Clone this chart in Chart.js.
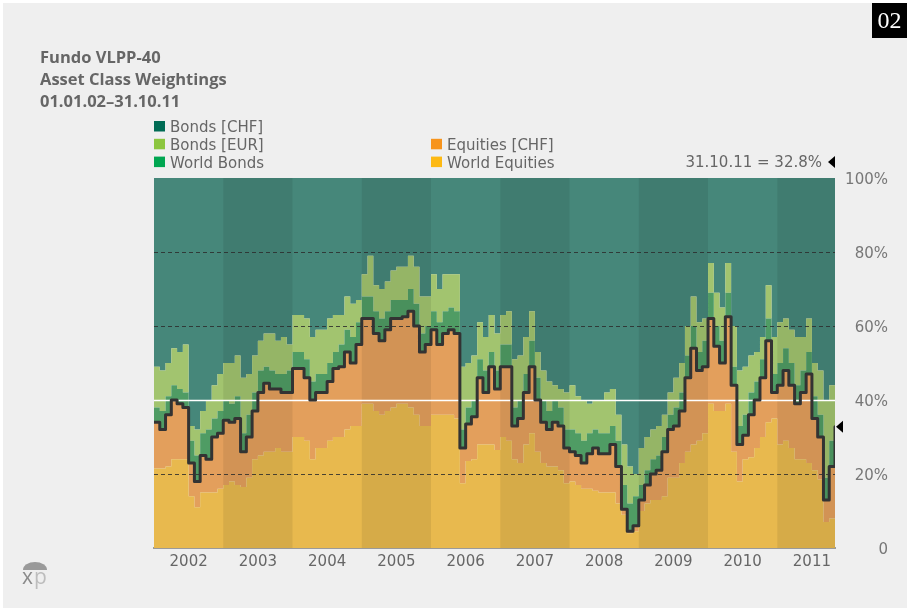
<!DOCTYPE html>
<html><head><meta charset="utf-8">
<script src="https://cdn.jsdelivr.net/npm/chart.js@4/dist/chart.umd.min.js"></script>
<style>
html,body{margin:0;padding:0;background:#fff;}
#wrap{width:907px;height:608px;position:relative;}
canvas{display:block;}
</style>
</head><body>
<div id="wrap"><canvas id="c" width="907" height="608"></canvas></div>
<script>
// ---- Data (monthly, Jan 2002 .. Oct 2011, plus closing point 31.10.11) ----
const years = ['2002','2003','2004','2005','2006','2007','2008','2009','2010','2011'];
const worldEquities = [
 21.5,21.5,22,24,24,24,14,11,15,15,15,16,
 17,18,17,16.5,19,24,25,26,26,27,26,26,
 30,30,29,24,27,27,29,30,30,32,33,33,
 39,39,37,36,37,38,39,39,38,36,33,33,
 36,36,36,36,35,17.5,23.5,24,28,28,28,26.5,
 30,29,24,23,28,31,26,23,22,22,21,17.5,
 18,17,16,16,15.5,15,15,15,12,9,4,4.5,
 10,12,13,13,14,19,19,23,26,28,29,31,
 39,37,37,39,26,18,24,24.5,27,30,34,35,
 28,29,27,24,24,23,21,18.5,7,8,14];
const equitiesCHF = [
 12.5,10.5,14,16,15,14,9,7,10,9,15,15,
 17.5,16,18,9.5,11,13,17,18.5,17,16,16,16,
 18.5,18.5,17,16,15,15,16,18.5,19,21,17,22,
 23,23,21,20,22,24,23,23.5,26,24,20,22,
 23,19,22,23,23,9.5,10,11.5,18,14,21,16.5,
 19,20,9,12,14,18,14,11,10,12,12,9.5,
 8,8,7,9.5,11.5,10.5,10.5,13,10,1.5,0.5,1.5,
 3,5,7,8,12,13,14,14,20,26,19,18,
 23,17.5,13,23.5,18,10,6.5,11.5,13,16,22,7,
 16,19,17,15,18,24,14,11.5,6,14,18.8];
const worldBonds = [
 4,5,5,4,4,4,6,7,6,8,5,6,
 5.5,5,6,5,6,5,6,4.5,5,4,5,6,
 4.5,4.5,5,5,5,5,5,4.5,6,6,7,6,
 6,6,6,6,5,5,5,4.5,6,6,5,5,
 5,6,6,6,6,5,4.5,4.5,5,6,4,5,
 6,6,5,5,5,7,6,6,5,6,5,5,
 6,6,6,5.5,5,5.5,5.5,5,7,6.5,7.5,8,
 4,4,4,4,4,4,5,5,6,6,5,7,
 7,5.5,6,6.5,5,5,5.5,6,5,5,6,5,
 6,6,6,5,6,6,6,6,6,7,5.2];
const bondsEUR = [
 11,11,9,10,10,13,4,7,6,8,9,10,
 10,11,11,15,11,10,8,9,10,9,10,7,
 10,10,11,12,12,12,12,10,8,9,9,6,
 6,11,7,8,8,8,9,9,9,10,10,8,
 10,9,10,9,10,17,12,12,10,9,10,10,
 8,9,13,12,10,8,7,8,8,4,5,10,
 12,10,11,8,8,9,11,10,7,11,10,6,
 10,9,8,8,6,6,8,8,8,8,8,6,
 8,9,9,8,11,15,13,10,8,6,9,10,
 11,8,9,13,9,9,9,12,21,15,10];
const bondsCHF = [
 51,52,50,46,47,45,67,68,63,60,56,53,
 50,50,48,54,53,48,44,42,42,44,43,45,
 37,37,38,43,41,41,38,37,37,32,34,33,
 26,21,29,30,28,25,24,24,21,24,32,32,
 26,30,26,26,26,51,50,48,39,43,37,42,
 37,36,49,48,43,36,47,52,55,56,57,58,
 56,59,60,61,60,60,58,57,64,72,78,80,
 73,70,68,67,64,58,54,50,40,32,39,38,
 23,31,35,23,40,52,51,48,47,43,29,43,
 39,38,41,43,43,38,50,52,60,56,52];
const yTickLabels = ['0','20%','40%','60%','80%','100%'];
const lastDate = '31.10.11';
const lastValue = 32.8;
const titleLines = ['Fundo VLPP-40','Asset Class Weightings','01.01.02\u201331.10.11'];

// ---- Styling ----
const FONT = "'DejaVu Sans', sans-serif";
const series = [
  {label:'World Equities', data:worldEquities, fill:'#e8b94e', key:'#fdb913'},
  {label:'Equities [CHF]', data:equitiesCHF,  fill:'#e39f5c', key:'#f7941d'},
  {label:'World Bonds',    data:worldBonds,   fill:'#4f9c64', key:'#00a651'},
  {label:'Bonds [EUR]',    data:bondsEUR,     fill:'#a2c46f', key:'#8cc63f'},
  {label:'Bonds [CHF]',    data:bondsCHF,     fill:'#46877a', key:'#006b54'}
];
const nPts = worldEquities.length;          // 119 points, x = month index
const xMax = nPts - 1;
const toXY = arr => arr.map((v,i)=>({x:i, y:v}));
const equityTotal = worldEquities.map((v,i)=> v + equitiesCHF[i]);

const datasets = series.map((s,i)=>({
  label:s.label, data:toXY(s.data), stack:'w', order:1,
  backgroundColor:s.fill, borderColor:s.fill, borderWidth:0,
  fill: i===0 ? 'origin' : '-1', stepped:true, pointRadius:0, tension:0
}));
const LINE_INDEX = datasets.length;
datasets.push({
  label:'Equities total', data:toXY(equityTotal), stack:'line', order:-1,
  borderColor:'#333333', borderWidth:3, fill:false, stepped:true,
  pointRadius:0, borderJoinStyle:'round', borderCapStyle:'round'
});

const deco = {
  id:'deco',
  beforeDraw(chart){
    const ctx = chart.ctx;
    ctx.save();
    ctx.fillStyle = '#ffffff'; ctx.fillRect(0,0,907,608);
    ctx.fillStyle = '#efefef'; ctx.fillRect(3,3,904,605);
    ctx.restore();
  },
  beforeDatasetDraw(chart, args){
    if (args.index !== LINE_INDEX) return;
    const {ctx, chartArea:a, scales:{x,y}} = chart;
    ctx.save();
    ctx.beginPath(); ctx.rect(a.left,a.top,a.right-a.left,a.bottom-a.top); ctx.clip();
    years.forEach((yr,i)=>{
      if (i%2===1){
        const x0 = x.getPixelForValue(i*12), x1 = x.getPixelForValue(Math.min(i*12+12, xMax));
        ctx.fillStyle='rgba(0,0,0,0.075)';
        ctx.fillRect(x0,a.top,x1-x0,a.bottom-a.top);
      }
    });
    [20,60,80].forEach(v=>{
      const py = Math.round(y.getPixelForValue(v))+0.5;
      ctx.strokeStyle='rgba(45,45,45,0.85)'; ctx.lineWidth=1.2; ctx.setLineDash([4,3]);
      ctx.beginPath(); ctx.moveTo(a.left,py); ctx.lineTo(a.right,py); ctx.stroke();
    });
    ctx.setLineDash([]);
    const p40 = Math.round(y.getPixelForValue(40))+0.5;
    ctx.strokeStyle='#ffffff'; ctx.lineWidth=1.5;
    ctx.beginPath(); ctx.moveTo(a.left,p40); ctx.lineTo(a.right,p40); ctx.stroke();
    ctx.restore();
  },
  afterDraw(chart){
    const {ctx, chartArea:a, scales:{y}} = chart;
    ctx.save();
    // titles
    ctx.fillStyle='#666'; ctx.font="bold 16.5px 'Open Sans', sans-serif"; ctx.textBaseline='alphabetic'; ctx.textAlign='left';
    titleLines.forEach((t,i)=> ctx.fillText(t, 40, 63 + i*22));
    // legend
    ctx.font = "15px " + FONT;
    const legendCols = [
      [series[4], series[3], series[2]],
      [null, series[1], series[0]]
    ];
    const colX = [154, 431];
    legendCols.forEach((col,ci)=>{
      col.forEach((s,ri)=>{
        if(!s) return;
        const base = 132 + ri*17.8;
        ctx.fillStyle = s.key; ctx.fillRect(colX[ci], base-11, 11, 10.5);
        ctx.fillStyle = '#666'; ctx.fillText(s.label, colX[ci]+16, base);
      });
    });
    // last value annotation
    ctx.textAlign='right'; ctx.fillStyle='#666';
    ctx.fillText(lastDate + ' = ' + lastValue.toFixed(1) + '%', 822, 167);
    ctx.fillStyle='#000';
    ctx.beginPath(); ctx.moveTo(828,162); ctx.lineTo(835,156); ctx.lineTo(835,168); ctx.closePath(); ctx.fill();
    // right-axis marker at last value
    const py = y.getPixelForValue(lastValue);
    ctx.beginPath(); ctx.moveTo(a.right+1,py); ctx.lineTo(a.right+8,py-6); ctx.lineTo(a.right+8,py+6); ctx.closePath(); ctx.fill();
    // page number box
    ctx.fillStyle='#000'; ctx.fillRect(872,3,35,35);
    ctx.fillStyle='#fff'; ctx.font="24px 'Liberation Serif', 'DejaVu Serif', serif"; ctx.textAlign='center'; ctx.textBaseline='middle';
    ctx.fillText('02', 889.5, 22);
    // logo
    ctx.fillStyle='#9a9a9a';
    ctx.beginPath(); ctx.ellipse(35,570,12,8,0,Math.PI,2*Math.PI); ctx.closePath(); ctx.fill();
    ctx.textBaseline='alphabetic'; ctx.textAlign='left';
    ctx.font="21px 'Open Sans', sans-serif";
    ctx.fillStyle='#8a8a8a'; ctx.fillText('x',22,584);
    ctx.fillStyle='#bdbdbd'; ctx.fillText('p',34,584);
    ctx.restore();
  }
};

new Chart(document.getElementById('c'), {
  type:'line',
  data:{datasets},
  options:{
    responsive:false, animation:false,
    layout:{padding:{left:154, top:178, right:19, bottom:30}},
    plugins:{legend:{display:false}, tooltip:{enabled:false}},
    scales:{
      x:{
        type:'linear', min:0, max:xMax,
        grid:{display:false, drawTicks:false},
        border:{display:true, color:'#9a9a9a', width:2},
        afterBuildTicks(s){ s.ticks = years.map((yr,i)=>({value: 6 + 12*i})); },
        afterFit(s){ s.height = 30; },
        ticks:{
          autoSkip:false, maxRotation:0, padding:5,
          color:'#666', font:{family:FONT, size:15},
          callback:(v)=> years[Math.round((v-6)/12)]
        }
      },
      y:{
        position:'right', stacked:true, min:0, max:100,
        grid:{display:false, drawTicks:false},
        border:{display:false},
        afterBuildTicks(s){ s.ticks = yTickLabels.map((t,i)=>({value:i*20})); },
        afterFit(s){ s.width = 53; },
        ticks:{
          crossAlign:'far', padding:10, labelOffset:2, color:'#777',
          font:{family:FONT, size:15},
          callback:(v)=> yTickLabels[Math.round(v/20)]
        }
      }
    }
  },
  plugins:[deco]
});
</script>
</body></html>
